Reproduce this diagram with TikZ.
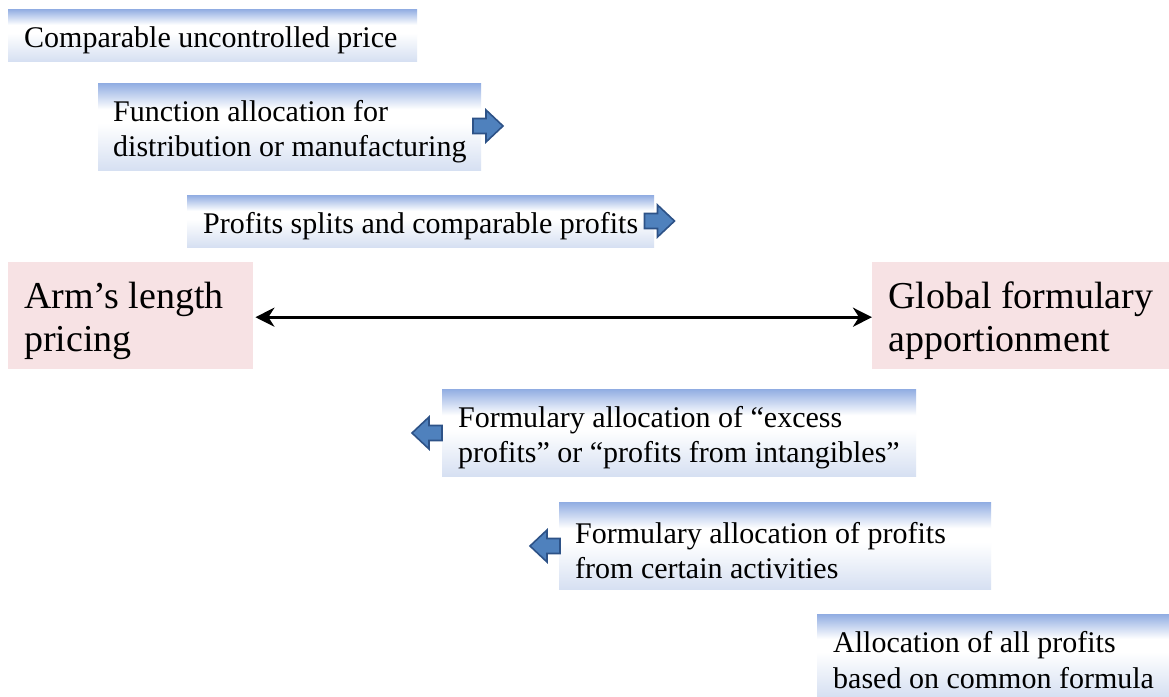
\documentclass[tikz,border=0pt]{standalone}
\usepackage{fontspec}
\setmainfont{Liberation Serif}
\usetikzlibrary{arrows.meta}
\definecolor{bbot}{RGB}{214,224,242}
\definecolor{btop}{RGB}{145,173,226}
\definecolor{pinkbg}{RGB}{247,226,228}
\definecolor{arrfill}{RGB}{79,129,189}
\definecolor{arrdraw}{RGB}{45,82,135}
\pgfdeclareverticalshading{boxshade}{100bp}{color(0bp)=(bbot); color(25bp)=(bbot); color(52bp)=(white); color(60bp)=(white); color(75bp)=(btop); color(100bp)=(btop)}
\tikzset{
  gbox/.style={shading=boxshade, anchor=north west, inner sep=0pt},
  pbox/.style={fill=pinkbg, anchor=north west, inner sep=0pt},
  gtext/.style={anchor=west, inner sep=0pt, align=left, yshift=-5pt, font=\fontsize{30}{35.5}\selectfont},
  ptext/.style={anchor=west, inner sep=0pt, align=left, yshift=-5pt, font=\fontsize{38}{43.5}\selectfont},
  rarr/.pic={\filldraw[fill=arrfill, draw=arrdraw, line width=1.6pt]
     (-15,-7.5) -- (-2,-7.5) -- (-2,-16) -- (15,0) -- (-2,16) -- (-2,7.5) -- (-15,7.5) -- cycle;},
  tipk/.tip={Stealth[length=19pt,width=19pt,inset=6pt]},
}
\begin{document}
\begin{tikzpicture}[x=1pt,y=-1pt]
\fill[white] (0,0) rectangle (1169,696);
\useasboundingbox (0,0) rectangle (1169,696);
% gradient boxes
\node[gbox, minimum width=409pt, minimum height=52pt] (b1) at (8,9) {};
\node[gtext] (t1) at ([xshift=16pt]b1.west) {Comparable uncontrolled price};
\node[gbox, minimum width=383pt, minimum height=87pt] (b2) at (98,83) {};
\node[gtext] (t2) at ([xshift=15pt]b2.west) {Function allocation for\\distribution or manufacturing};
\node[gbox, minimum width=467pt, minimum height=52pt] (b3) at (187,195) {};
\node[gtext] (t3) at ([xshift=16pt]b3.west) {Profits splits and comparable profits};
\node[gbox, minimum width=474pt, minimum height=87pt] (b4) at (442,389) {};
\node[gtext] (t4) at ([xshift=16pt]b4.west) {Formulary allocation of “excess\\profits” or “profits from intangibles”};
\node[gbox, minimum width=432pt, minimum height=87pt] (b5) at (559,502) {};
\node[gtext] (t5) at ([xshift=16pt]b5.west) {Formulary allocation of profits\\from certain activities};
\node[gbox, minimum width=352pt, minimum height=82pt] (b6) at (817,614) {};
\node[gtext] (t6) at ([xshift=16pt]b6.west) {Allocation of all profits\\based on common formula};
% pink boxes
\node[pbox, minimum width=245pt, minimum height=107pt] (al) at (8,262) {};
\node[ptext] (tal) at ([xshift=16pt]al.west) {Arm’s length\\pricing};
\node[pbox, minimum width=297pt, minimum height=107pt] (gf) at (872,262) {};
\node[ptext] (tgf) at ([xshift=16pt]gf.west) {Global formulary\\apportionment};
% double arrow
\draw[line width=3pt, tipk-tipk] ([xshift=2pt,yshift=-1.5pt]al.east) -- ([yshift=-1.5pt]gf.west);
% block arrows
\pic at (488,126) {rarr};
\pic at (659.5,221) {rarr};
\pic[xscale=-1] at (427,433) {rarr};
\pic[xscale=-1] at (545,546) {rarr};
\end{tikzpicture}
\end{document}
